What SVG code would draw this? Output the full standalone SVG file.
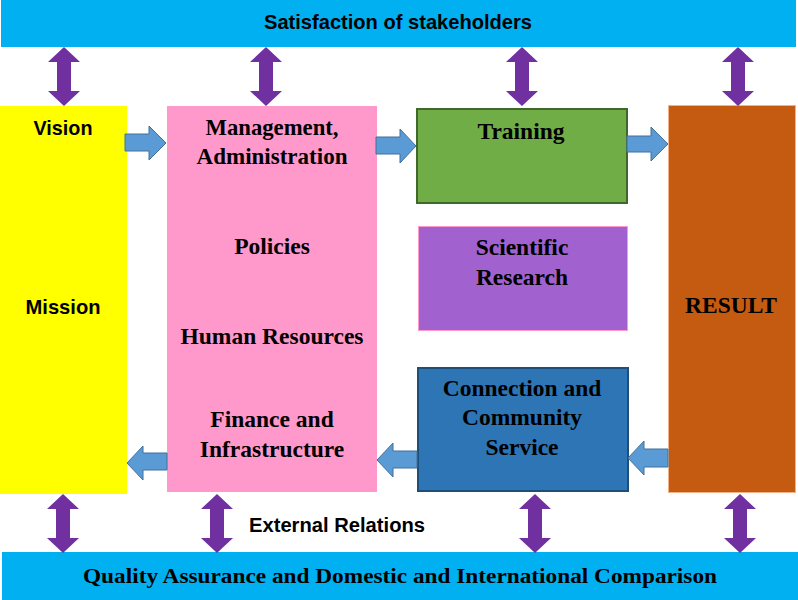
<svg xmlns="http://www.w3.org/2000/svg" width="798" height="600" viewBox="0 0 798 600">
<defs>
<style>
.sans{font-family:"Liberation Sans",Arial,sans-serif;font-weight:bold;fill:#000}
.serif{font-family:"Liberation Serif","Times New Roman",serif;font-weight:bold;fill:#000}
.bx{font-size:23.5px}
.dbl{fill:#7030A0}
.blu{fill:#5B9BD5;stroke:#41719C;stroke-width:1}
</style>
<path id="dv" d="M0,0 L16,15 L7,15 L7,44 L16,44 L0,59 L-16,44 L-7,44 L-7,15 L-16,15 Z"/>
</defs>
<rect width="798" height="600" fill="#fff"/>
<g id="top-bar">
<rect x="1" y="0" width="795" height="47" fill="#00B0F0"/>
<text class="sans" x="398" y="29" font-size="21" text-anchor="middle" textLength="268" lengthAdjust="spacingAndGlyphs">Satisfaction of stakeholders</text>
</g>
<g id="bottom-bar">
<rect x="2" y="552" width="796" height="48" fill="#00B0F0"/>
<text class="serif" x="400" y="583" font-size="22" text-anchor="middle" textLength="634" lengthAdjust="spacingAndGlyphs">Quality Assurance and Domestic and International Comparison</text>
</g>
<g id="vision">
<rect x="0" y="106" width="127" height="388" fill="#FFFF00"/>
<text class="sans" x="63" y="135" font-size="21" text-anchor="middle" textLength="59" lengthAdjust="spacingAndGlyphs">Vision</text>
<text class="sans" x="63" y="314" font-size="21" text-anchor="middle" textLength="75" lengthAdjust="spacingAndGlyphs">Mission</text>
</g>
<g id="management">
<rect x="167" y="106" width="210" height="386" fill="#FF99CC"/>
<text class="serif bx" x="272" y="135" text-anchor="middle" textLength="133" lengthAdjust="spacingAndGlyphs">Management,</text>
<text class="serif bx" x="272" y="164" text-anchor="middle" textLength="151" lengthAdjust="spacingAndGlyphs">Administration</text>
<text class="serif bx" x="272" y="254" text-anchor="middle">Policies</text>
<text class="serif bx" x="272" y="344" text-anchor="middle">Human Resources</text>
<text class="serif bx" x="272" y="427" text-anchor="middle">Finance and</text>
<text class="serif bx" x="272" y="457" text-anchor="middle">Infrastructure</text>
</g>
<g id="training">
<rect x="417" y="109" width="210" height="94" fill="#70AD47" stroke="#426829" stroke-width="2"/>
<text class="serif bx" x="521" y="139" text-anchor="middle">Training</text>
</g>
<g id="research">
<rect x="418.5" y="226.5" width="209" height="104" fill="#A162D0" stroke="#FF99CC" stroke-width="1"/>
<text class="serif bx" x="522" y="255" text-anchor="middle">Scientific</text>
<text class="serif bx" x="522" y="285" text-anchor="middle">Research</text>
</g>
<g id="community">
<rect x="418" y="368" width="210" height="123" fill="#2E75B6" stroke="#1F4E79" stroke-width="2"/>
<text class="serif bx" x="522" y="396" text-anchor="middle">Connection and</text>
<text class="serif bx" x="522" y="425" text-anchor="middle">Community</text>
<text class="serif bx" x="522" y="455" text-anchor="middle">Service</text>
</g>
<g id="result">
<rect x="668.5" y="105.5" width="127" height="387" fill="#C55A11" stroke="#F4B183" stroke-width="1"/>
<text class="serif bx" x="731" y="313" text-anchor="middle">RESULT</text>
</g>
<g id="external-label">
<text class="sans" x="337" y="532" font-size="20" text-anchor="middle" textLength="176" lengthAdjust="spacingAndGlyphs">External Relations</text>
</g>
<g id="connectors">
<use href="#dv" class="dbl" x="64" y="47"/>
<use href="#dv" class="dbl" x="266" y="47"/>
<use href="#dv" class="dbl" x="522" y="47"/>
<use href="#dv" class="dbl" x="738" y="47"/>
<use href="#dv" class="dbl" x="63" y="494"/>
<use href="#dv" class="dbl" x="217" y="494"/>
<use href="#dv" class="dbl" x="535" y="494"/>
<use href="#dv" class="dbl" x="740" y="494"/>
<path class="blu" d="M125,134 L149,134 L149,126 L166,143 L149,160 L149,151 L125,151 Z"/>
<path class="blu" d="M376,137 L400,137 L400,129 L416,146 L400,163 L400,154 L376,154 Z"/>
<path class="blu" d="M627,136 L651,136 L651,127 L668,144 L651,161 L651,152 L627,152 Z"/>
<path class="blu" d="M167,453 L143,453 L143,446 L127,463 L143,480 L143,470 L167,470 Z"/>
<path class="blu" d="M417,451 L393,451 L393,443 L377,460 L393,477 L393,468 L417,468 Z"/>
<path class="blu" d="M668,449 L644,449 L644,441 L628,458 L644,475 L644,467 L668,467 Z"/>
</g>
</svg>
